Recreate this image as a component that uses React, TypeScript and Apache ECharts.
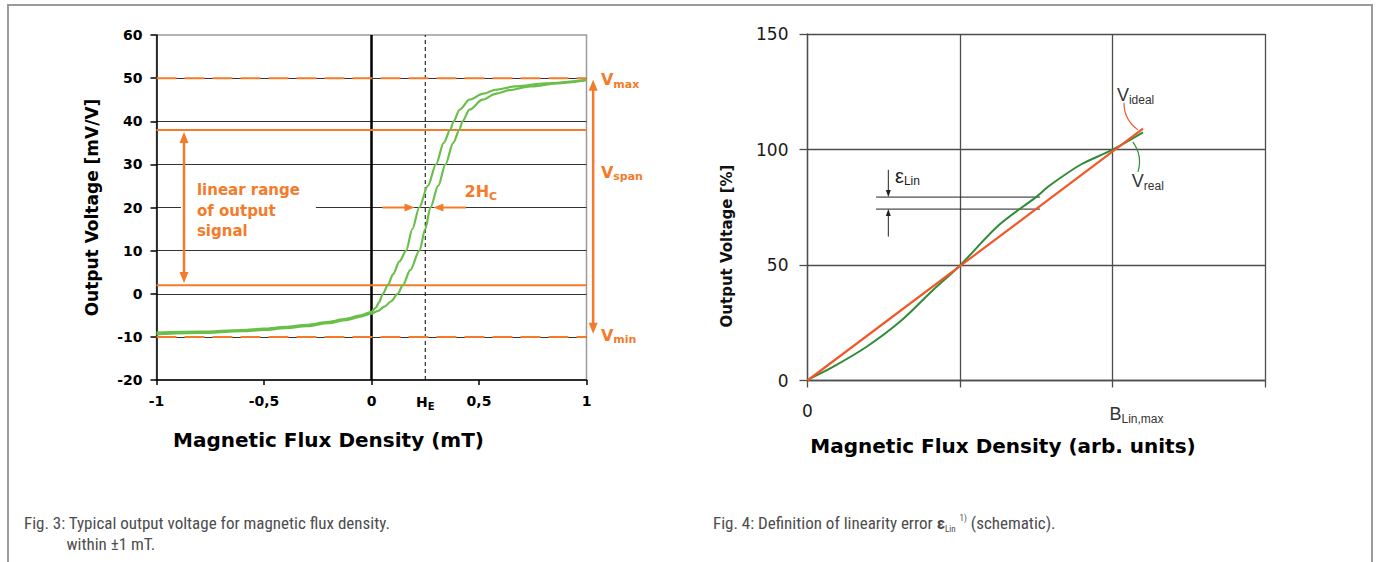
import React, { useEffect, useRef } from 'react';
import * as echarts from 'echarts';

// ---------------- Fig. 3 : hysteresis of output voltage ----------------
const fluxMinL = -1;
const fluxMaxL = 1;
const voltMinL = -20;
const voltMaxL = 60;
// branch shifted to the left (upper branch)
const hystBranchLeft: [number, number][] = [
  [-1, -9.0], [-0.8, -8.8], [-0.6, -8.4], [-0.5, -8.1], [-0.4, -7.7], [-0.3, -7.2],
  [-0.2, -6.5], [-0.12, -5.8], [-0.05, -5.0], [0, -4.2], [0.02, -3.2], [0.035, -2.0],
  [0.053, 0], [0.076, 2], [0.1, 4.5], [0.13, 7.5], [0.161, 10], [0.19, 15], [0.222, 20],
  [0.262, 25], [0.3, 30], [0.336, 35], [0.366, 38], [0.382, 40], [0.41, 42.7],
  [0.456, 45], [0.52, 46.4], [0.577, 47.3], [0.67, 48.1], [0.81, 48.8], [1, 49.6],
];
// branch shifted to the right (lower branch)
const hystBranchRight: [number, number][] = [
  [-1, -9.4], [-0.8, -9.1], [-0.6, -8.7], [-0.5, -8.4], [-0.4, -8.0], [-0.3, -7.5],
  [-0.2, -6.8], [-0.12, -6.1], [-0.05, -5.3], [0, -4.6], [0.03, -4.0], [0.06, -3.0],
  [0.09, -1.8], [0.122, 0], [0.146, 2], [0.18, 5.5], [0.223, 10], [0.25, 15], [0.274, 20],
  [0.31, 25], [0.344, 30], [0.38, 35], [0.409, 38], [0.423, 40], [0.456, 42.7],
  [0.516, 45], [0.58, 46.4], [0.64, 47.2], [0.74, 48.1], [0.87, 48.8], [1, 49.5],
];
const vMax = 50;
const vMin = -10;
const linTop = 38;
const linBottom = 2;
const hE = 0.25;
const hcLevel = 20;

// ---------------- Fig. 4 : linearity error ----------------
const fluxMaxR = 3;
const voltMaxR = 150;
const idealLine: [number, number][] = [[0, 0], [2.2, 109]];
const realLine: [number, number][] = [
  [0, 0.3], [0.17, 6], [0.39, 14.7], [0.607, 25.5], [0.825, 39.3], [1.0, 49.8],
  [1.25, 67], [1.5, 79.5], [1.59, 84.5], [1.79, 93.4], [2.0, 99.9], [2.2, 107.4],
];
const epsUpper = 79.4;
const epsLower = 74.2;
const epsFrom = 0.45;
const epsTo = 1.524;

const ORANGE = '#f47b2a';
const GREEN_L = '#69bf4a';
const GREEN_R = '#2e8c38';
const RED_R = '#f0582a';
const WIDE = '"DejaVu Sans", Verdana, sans-serif';
const ARIAL = '"Liberation Sans", Arial, sans-serif';
const NARROW = '"Liberation Sans Narrow", "Roboto Condensed", Roboto, sans-serif';

function hLine(x0: number, x1: number, y: number): [number, number][] {
  return [[x0, y], [x1, y]];
}
function vLine(x: number, y0: number, y1: number): [number, number][] {
  return [[x, y0], [x, y1]];
}

function lineSeries(data: [number, number][], grid: number, color: string, width: number, type: any = 'solid', z = 3, extra: any = {}) {
  return {
    type: 'line', xAxisIndex: grid, yAxisIndex: grid, data, symbol: 'none', silent: true,
    lineStyle: { color, width, type }, z, clip: false, ...extra,
  };
}

export default function App() {
  const ref = useRef<HTMLDivElement>(null);
  useEffect(() => {
    const chart = echarts.init(ref.current!, null, { renderer: 'svg' });
    const option: any = {
      animation: false,
      textStyle: { fontFamily: WIDE },
      grid: [
        { left: 156.5, top: 35, width: 430, height: 345, show: true, borderColor: '#9a9a9a', borderWidth: 1.5, backgroundColor: 'transparent', outerBoundsMode: 'none' },
        { left: 807.5, top: 34, width: 457.5, height: 346.5, show: false, outerBoundsMode: 'none' },
      ],
      xAxis: [
        {
          type: 'value', gridIndex: 0, min: fluxMinL, max: fluxMaxL, interval: 0.5,
          axisLine: { onZero: false, lineStyle: { color: '#000', width: 1.5 } },
          axisTick: { show: true, length: 5, lineStyle: { color: '#000', width: 1.5 } },
          axisLabel: { margin: 14, color: '#000', fontFamily: WIDE, fontWeight: 'bold', fontSize: 14, formatter: (v: number) => String(v).replace('.', ',') },
          splitLine: { show: false },
        },
        {
          type: 'value', gridIndex: 1, min: 0, max: fluxMaxR, interval: 1,
          axisLine: { onZero: false, lineStyle: { color: '#4d4d4d', width: 1.3 } },
          axisTick: { show: true, length: 7, lineStyle: { color: '#4d4d4d', width: 1.3 } },
          axisLabel: {
            margin: 22, color: '#1a1a1a', fontFamily: WIDE, fontSize: 17,
            formatter: (v: number) => (v === 0 ? '0' : v === 2 ? '{b|B}{s|Lin,max}' : ''),
            rich: {
              b: { fontFamily: ARIAL, fontSize: 18, color: '#333', lineHeight: 22, padding: [0, 0, 0, 48] },
              s: { fontFamily: ARIAL, fontSize: 12, color: '#333', lineHeight: 13, verticalAlign: 'bottom' },
            },
          },
          splitLine: { show: true, lineStyle: { color: '#4d4d4d', width: 1.3 } },
        },
      ],
      yAxis: [
        {
          type: 'value', gridIndex: 0, min: voltMinL, max: voltMaxL, interval: 10,
          axisLine: { onZero: false, lineStyle: { color: '#000', width: 1.5 } },
          axisTick: { show: true, length: 6, lineStyle: { color: '#000', width: 1.5 } },
          axisLabel: { margin: 14, color: '#000', fontFamily: WIDE, fontWeight: 'bold', fontSize: 14 },
          splitLine: { show: true, showMinLine: false, showMaxLine: false, lineStyle: { color: '#333', width: 1 } },
        },
        {
          type: 'value', gridIndex: 1, min: 0, max: voltMaxR, interval: 50,
          axisLine: { onZero: false, lineStyle: { color: '#4d4d4d', width: 1.3 } },
          axisTick: { show: true, length: 8, lineStyle: { color: '#4d4d4d', width: 1.3 } },
          axisLabel: { margin: 19, color: '#1a1a1a', fontFamily: WIDE, fontSize: 17 },
          splitLine: { show: true, lineStyle: { color: '#4d4d4d', width: 1.3 } },
        },
      ],
      series: [
        // Fig. 3 reference lines
        lineSeries(vLine(0, voltMinL, voltMaxL), 0, '#000', 2.5, 'solid', 2),
        lineSeries(vLine(hE, voltMinL, voltMaxL), 0, '#000', 1, [4, 3], 2),
        lineSeries(hLine(fluxMinL, fluxMaxL, vMax), 0, ORANGE, 2, [20, 8], 3),
        lineSeries(hLine(fluxMinL, fluxMaxL, vMin), 0, ORANGE, 2, [20, 8], 3),
        lineSeries(hLine(fluxMinL, fluxMaxL, linTop), 0, ORANGE, 2, 'solid', 3),
        lineSeries(hLine(fluxMinL, fluxMaxL, linBottom), 0, ORANGE, 2, 'solid', 3),
        // hysteresis branches
        lineSeries(hystBranchRight, 0, GREEN_L, 2.2, 'solid', 4, { smooth: 0.3, smoothMonotone: 'x' }),
        lineSeries(hystBranchLeft, 0, GREEN_L, 2.2, 'solid', 4, { smooth: 0.3, smoothMonotone: 'x' }),
        // Fig. 4
        lineSeries(hLine(epsFrom, epsTo, epsUpper), 1, '#222', 1, 'solid', 2),
        lineSeries(hLine(epsFrom, epsTo, epsLower), 1, '#222', 1, 'solid', 2),
        lineSeries(realLine, 1, GREEN_R, 2, 'solid', 4, { smooth: 0.3 }),
        lineSeries(idealLine, 1, RED_R, 2.2, 'solid', 5),
      ],
    };
    chart.setOption(option);

    const P0 = (x: number, y: number) => chart.convertToPixel({ gridIndex: 0 }, [x, y]) as number[];
    const P1 = (x: number, y: number) => chart.convertToPixel({ gridIndex: 1 }, [x, y]) as number[];
    const g: any[] = [];

    const arrow = (a: number[], b: number[], color: string, lw: number, hl: number, hw: number, both: boolean) => {
      const dx = b[0] - a[0], dy = b[1] - a[1];
      const L = Math.hypot(dx, dy);
      const ux = dx / L, uy = dy / L;
      const head = (t: number[], sx: number, sy: number) => ({
        type: 'polygon', z: 60,
        shape: { points: [[t[0], t[1]], [t[0] - sx * hl - sy * hw / 2, t[1] - sy * hl + sx * hw / 2], [t[0] - sx * hl + sy * hw / 2, t[1] - sy * hl - sx * hw / 2]] },
        style: { fill: color },
      });
      const s = both ? [a[0] + ux * hl * 0.8, a[1] + uy * hl * 0.8] : a;
      const e = [b[0] - ux * hl * 0.8, b[1] - uy * hl * 0.8];
      g.push({ type: 'line', z: 60, shape: { x1: s[0], y1: s[1], x2: e[0], y2: e[1] }, style: { stroke: color, lineWidth: lw } });
      g.push(head(b, ux, uy));
      if (both) g.push(head(a, -ux, -uy));
    };
    const txt = (p: number[], style: any, extra: any = {}) => {
      g.push({ type: 'text', z: 62, x: p[0], y: p[1], style: { fontFamily: WIDE, ...style }, ...extra });
    };

    // page frame
    g.push({ type: 'polyline', z: 1, shape: { points: [[8, 562], [8, 5], [1372, 5], [1372, 562]] }, style: { stroke: '#9a9a9a', lineWidth: 2, fill: 'none' } });

    // ---- Fig. 3 annotations ----
    const linTxt = P0(-0.812, 19.3);
    g.push({
      type: 'text', z: 58, x: linTxt[0] - 16, y: linTxt[1],
      style: {
        text: 'linear range\nof output\nsignal', fontFamily: WIDE, fontWeight: 'bold', fontSize: 15, lineHeight: 20.5,
        fill: ORANGE, align: 'left', verticalAlign: 'middle', backgroundColor: '#fff', padding: [4, 16, 4, 16],
      },
    });
    arrow(P0(-0.872, linTop - 0.5), P0(-0.872, linBottom + 0.5), ORANGE, 2.5, 11, 9, true);
    arrow(P0(1.031, vMax - 0.4), P0(1.031, vMin + 0.7), ORANGE, 2.5, 11, 9, true);
    arrow(P0(0.05, hcLevel), P0(0.2, hcLevel), ORANGE, 2, 10, 8, false);
    arrow(P0(0.44, hcLevel), P0(0.288, hcLevel), ORANGE, 2, 10, 8, false);

    const vRich = {
      v: { fontFamily: WIDE, fontWeight: 'bold', fontSize: 16, fill: ORANGE, lineHeight: 20 },
      s: { fontFamily: WIDE, fontWeight: 'bold', fontSize: 11, fill: ORANGE, lineHeight: 12, verticalAlign: 'bottom' },
    };
    txt(P0(1.067, 49.6), { text: '{v|V}{s|max}', rich: vRich, fill: ORANGE, align: 'left', verticalAlign: 'middle' });
    txt(P0(1.067, 28.2), { text: '{v|V}{s|span}', rich: vRich, fill: ORANGE, align: 'left', verticalAlign: 'middle' });
    txt(P0(1.067, -9.6), { text: '{v|V}{s|min}', rich: vRich, fill: ORANGE, align: 'left', verticalAlign: 'middle' });
    txt(P0(0.433, 23.6), { text: '{v|2H}{s|C}', rich: vRich, fill: ORANGE, align: 'left', verticalAlign: 'middle' });
    const heP = P0(hE, voltMinL);
    txt([heP[0], heP[1] + 22], {
      text: '{v|H}{s|E}', align: 'center', verticalAlign: 'middle', fill: '#000',
      rich: {
        v: { fontFamily: WIDE, fontWeight: 'bold', fontSize: 14, fill: '#000', lineHeight: 18 },
        s: { fontFamily: WIDE, fontWeight: 'bold', fontSize: 10, fill: '#000', lineHeight: 11, verticalAlign: 'bottom' },
      },
    });
    txt([92, 207.5], { text: 'Output Voltage [mV/V]', fontWeight: 'bold', fontSize: 17, fill: '#000', align: 'center', verticalAlign: 'middle' }, { rotation: Math.PI / 2 });
    txt([328.5, 440], { text: 'Magnetic Flux Density (mT)', fontWeight: 'bold', fontSize: 20, fill: '#000', align: 'center', verticalAlign: 'middle' });

    // ---- Fig. 4 annotations ----
    arrow(P1(0.53, 91.2), P1(0.53, epsUpper), '#222', 1, 7, 5, false);
    arrow(P1(0.53, 62.3), P1(0.53, epsLower), '#222', 1, 7, 5, false);
    const subRich = (color: string, big: number) => ({
      v: { fontFamily: ARIAL, fontSize: big, fill: color, lineHeight: 22 },
      s: { fontFamily: ARIAL, fontSize: 12, fill: color, lineHeight: 13, verticalAlign: 'bottom' },
    });
    txt(P1(0.574, 88.6), { text: '{v|ε}{s|Lin}', rich: subRich('#222', 20), fill: '#222', align: 'left', verticalAlign: 'middle' });
    txt(P1(2.029, 123.7), { text: '{v|V}{s|ideal}', rich: subRich('#333', 18), fill: '#333', align: 'left', verticalAlign: 'middle' });
    txt(P1(2.127, 86.5), { text: '{v|V}{s|real}', rich: subRich('#333', 18), fill: '#333', align: 'left', verticalAlign: 'middle' });
    const li0 = P1(2.075, 120.2), li1 = P1(2.075, 112.8), li2 = P1(2.167, 108.5);
    g.push({ type: 'bezierCurve', z: 60, shape: { x1: li0[0], y1: li0[1], cpx1: li1[0], cpy1: li1[1], x2: li2[0], y2: li2[1] }, style: { stroke: RED_R, lineWidth: 1.2, fill: 'none' } });
    const lr0 = P1(2.133, 103.3), lr1 = P1(2.199, 97.3), lr2 = P1(2.167, 90.3);
    g.push({ type: 'bezierCurve', z: 60, shape: { x1: lr0[0], y1: lr0[1], cpx1: lr1[0], cpy1: lr1[1], x2: lr2[0], y2: lr2[1] }, style: { stroke: GREEN_R, lineWidth: 1.2, fill: 'none' } });
    txt([727, 246], { text: 'Output Voltage [%]', fontWeight: 'bold', fontSize: 15, fill: '#111', align: 'center', verticalAlign: 'middle' }, { rotation: Math.PI / 2 });
    txt([1003, 446], { text: 'Magnetic Flux Density (arb. units)', fontWeight: 'bold', fontSize: 20, fill: '#000', align: 'center', verticalAlign: 'middle' });

    // ---- captions ----
    const capStyle = { fontFamily: NARROW, fontSize: 17, fill: '#4d4d4d', align: 'left', verticalAlign: 'middle' };
    txt([24, 523], { ...capStyle, text: 'Fig. 3: Typical output voltage for magnetic flux density.' });
    txt([66.5, 544], { ...capStyle, text: 'within ±1 mT.' });
    txt([713, 523], {
      ...capStyle,
      text: 'Fig. 4: Definition of linearity error {e|ε}{l|Lin} {u|1)} (schematic).',
      rich: {
        e: { fontFamily: NARROW, fontSize: 17, fontWeight: 'bold', fill: '#4d4d4d', lineHeight: 20 },
        l: { fontFamily: NARROW, fontSize: 9, fill: '#4d4d4d', lineHeight: 10, verticalAlign: 'bottom' },
        u: { fontFamily: NARROW, fontSize: 9, fill: '#4d4d4d', lineHeight: 10, verticalAlign: 'top' },
      },
    });

    chart.setOption({ graphic: { elements: g } });
    return () => chart.dispose();
  }, []);
  return <div ref={ref} style={{ position: 'fixed', left: 0, top: 0, width: 1377, height: 562, background: '#fff' }} />;
}
